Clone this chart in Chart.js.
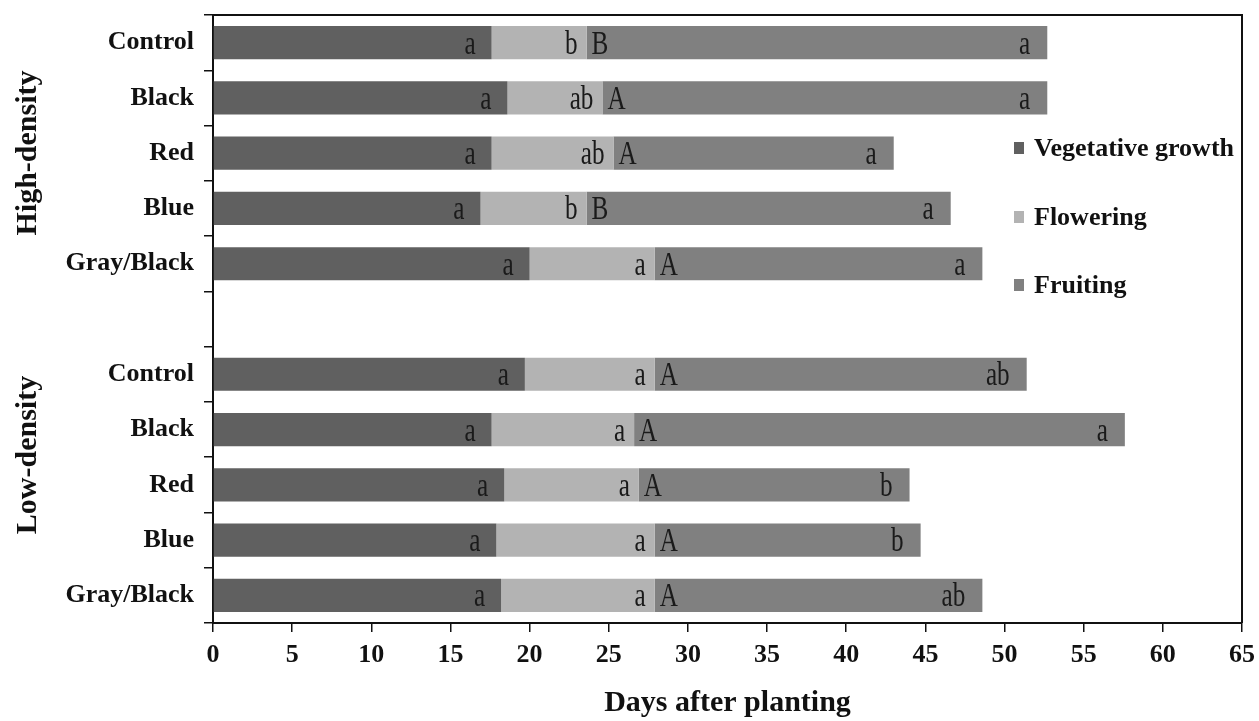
<!DOCTYPE html>
<html>
<head>
<meta charset="utf-8">
<script src="https://cdn.jsdelivr.net/npm/chart.js@4.4.1/dist/chart.umd.min.js"></script>
<style>
  html, body { margin: 0; padding: 0; background: #ffffff; }
  #wrap { width: 1259px; height: 721px; }
</style>
</head>
<body>
<div id="wrap"><canvas id="c" width="1259" height="721"></canvas></div>
<script>
// Treatments, top to bottom; the empty slot separates the two planting densities
const categories = ['Control', 'Black', 'Red', 'Blue', 'Gray/Black', '',
                    'Control', 'Black', 'Red', 'Blue', 'Gray/Black'];

// Duration of each phase (days)
const vegetative = [17.6, 18.6, 17.6, 16.9, 20.0, null, 19.7, 17.6, 18.4, 17.9, 18.2];
const flowering  = [6.0, 6.0, 7.7, 6.7, 7.9, null, 8.2, 9.0, 8.5, 10.0, 9.7];
const fruiting   = [29.1, 28.1, 17.7, 23.0, 20.7, null, 23.5, 31.0, 17.1, 16.8, 20.7];

// Mean-separation letters
const vegLetters        = ['a', 'a', 'a', 'a', 'a', '', 'a', 'a', 'a', 'a', 'a'];
const flowerLetters     = ['b', 'ab', 'ab', 'b', 'a', '', 'a', 'a', 'a', 'a', 'a'];
const fruitStartLetters = ['B', 'A', 'A', 'B', 'A', '', 'A', 'A', 'A', 'A', 'A'];
const fruitEndLetters   = ['a', 'a', 'a', 'a', 'a', '', 'ab', 'a', 'b', 'b', 'ab'];

// Axis settings
const xMin = 0, xMax = 65, xStep = 5;
const groupTitles = ['High-density', 'Low-density'];

const SERIF = '"Liberation Serif", "Times New Roman", Times, serif';
const INK = '#111111';

// Letters inside the bar segments
const letterPlugin = {
  id: 'segmentLetters',
  afterDatasetsDraw(chart) {
    const ctx = chart.ctx;
    const draw = (text, x, y, align) => {
      if (!text) return;
      ctx.save();
      ctx.translate(x, y);
      ctx.scale(0.9, 1.2);
      ctx.font = '28px ' + SERIF;
      ctx.fillStyle = '#1a1a1a';
      ctx.textAlign = align;
      ctx.textBaseline = 'alphabetic';
      ctx.fillText(text, 0, 0);
      ctx.restore();
    };
    const veg = chart.getDatasetMeta(0).data;
    const flw = chart.getDatasetMeta(1).data;
    const frt = chart.getDatasetMeta(2).data;
    categories.forEach((c, i) => {
      if (vegetative[i] == null) return;
      const v = veg[i].getProps(['x', 'y', 'base'], true);
      const f = flw[i].getProps(['x', 'y', 'base'], true);
      const r = frt[i].getProps(['x', 'y', 'base'], true);
      const yb = v.y + 11;
      draw(vegLetters[i], v.x - 16, yb, 'right');
      draw(flowerLetters[i], f.x - 9, yb, 'right');
      draw(fruitStartLetters[i], r.base + 5, yb, 'left');
      draw(fruitEndLetters[i], r.x - 17, yb, 'right');
    });
  }
};

// Frame, legend and density titles
const decorPlugin = {
  id: 'decor',
  afterDraw(chart) {
    const ctx = chart.ctx;
    const a = chart.chartArea;
    ctx.save();
    ctx.strokeStyle = INK;
    ctx.lineWidth = 2;
    ctx.beginPath();
    ctx.moveTo(a.left, a.top);
    ctx.lineTo(a.right, a.top);
    ctx.lineTo(a.right, a.bottom);
    ctx.stroke();

    // legend
    const legendY = [148, 217, 285];
    ctx.font = 'bold 26px ' + SERIF;
    ctx.textBaseline = 'middle';
    ctx.textAlign = 'left';
    chart.data.datasets.forEach((ds, k) => {
      ctx.fillStyle = ds.backgroundColor;
      ctx.fillRect(1014, legendY[k] - 6, 10, 12);
      ctx.fillStyle = INK;
      ctx.fillText(ds.label, 1034, legendY[k] + 1);
    });

    // density group titles
    const ys = [153, 455];
    ctx.font = 'bold 30px ' + SERIF;
    ctx.textAlign = 'center';
    groupTitles.forEach((t, k) => {
      ctx.save();
      ctx.translate(28, ys[k]);
      ctx.rotate(-Math.PI / 2);
      ctx.fillStyle = INK;
      ctx.fillText(t, 0, 0);
      ctx.restore();
    });
    ctx.restore();
  }
};

new Chart(document.getElementById('c'), {
  type: 'bar',
  data: {
    labels: categories,
    datasets: [
      { label: 'Vegetative growth', data: vegetative, backgroundColor: '#606060' },
      { label: 'Flowering', data: flowering, backgroundColor: '#b3b3b3' },
      { label: 'Fruiting', data: fruiting, backgroundColor: '#808080' }
    ]
  },
  options: {
    indexAxis: 'y',
    responsive: false,
    animation: false,
    layout: { padding: { top: 15, right: 17, left: 0, bottom: 0 } },
    datasets: { bar: { barPercentage: 0.6, categoryPercentage: 1 } },
    plugins: { legend: { display: false }, tooltip: { enabled: false } },
    scales: {
      x: {
        stacked: true,
        min: xMin, max: xMax,
        ticks: {
          stepSize: xStep, autoSkip: false, maxRotation: 0, padding: 8,
          color: INK, font: { family: SERIF, size: 26, weight: 'bold' }
        },
        grid: { drawOnChartArea: false, drawTicks: true, tickLength: 9, color: INK, lineWidth: 1.5 },
        border: { display: true, color: INK, width: 2 },
        title: {
          display: true, text: 'Days after planting', color: INK, padding: 0,
          font: { family: SERIF, size: 30, weight: 'bold' }
        },
        afterFit(s) { s.height = 98; s.paddingLeft = 0; s.paddingRight = 0; }
      },
      y: {
        stacked: true,
        ticks: {
          autoSkip: false, padding: 10,
          color: INK, font: { family: SERIF, size: 26, weight: 'bold' }
        },
        grid: { drawOnChartArea: false, offset: true, tickLength: 9, color: INK, lineWidth: 1.5 },
        border: { display: true, color: INK, width: 2 },
        afterFit(s) { s.width = 213; s.paddingTop = 0; s.paddingBottom = 0; }
      }
    }
  },
  plugins: [letterPlugin, decorPlugin]
});
</script>
</body>
</html>
